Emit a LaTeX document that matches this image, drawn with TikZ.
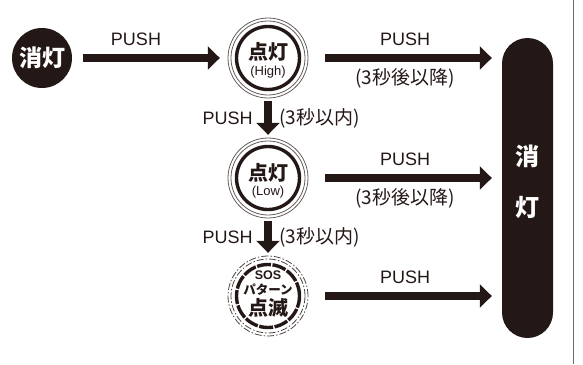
\documentclass[tikz,border=0pt]{standalone}
\usepackage{fontspec}
\setmainfont{Liberation Sans}
\newfontfamily\jp{Noto Sans CJK JP}
\usetikzlibrary{arrows.meta}
\definecolor{ink}{HTML}{231815}
\tikzset{
  lamp/.style={circle,minimum size=80pt,inner sep=0pt},
  push/.style={->,line width=8pt,draw=ink},
  lbl/.style={font=\fontsize{18}{20}\selectfont,text=ink},
  sub/.style={font=\jp\fontsize{19}{20}\selectfont,text=ink},
  big/.style={font=\jp\bfseries\fontsize{20}{20}\selectfont,text=ink,inner sep=0pt},
  small/.style={font=\fontsize{13}{13}\selectfont,text=ink,inner sep=0pt},
}
\begin{document}
\begin{tikzpicture}[x=1pt,y=-1pt,>={Triangle[width=23pt,length=12pt]}]
  \useasboundingbox (0,0) rectangle (583,364);
  \draw[ink!65,line width=1.2pt] (573.5,0) -- (573.5,364);
  \path (42,58) node[circle,fill=ink,minimum size=60pt,inner sep=0pt,text=white,font=\jp\bfseries\fontsize{23}{24}\selectfont](off){消灯};
  \path (268,58) node[lamp](high){};
  \path (268,178) node[lamp](low){};
  \path (268,296) node[lamp](sos){};
  \path (high) ++(0,-6) node[big](hightop){点灯} ++(0,20) node[small](highsub){(High)};
  \path (low) ++(0,-5) node[big](lowtop){点灯} ++(0,19) node[small](lowsub){(Low)};
  \path (sos) ++(0,-21) node[small,font=\bfseries\fontsize{12.5}{13}\selectfont](sostop){SOS}
    ++(0,15) node[big,font=\jp\bfseries\fontsize{12.5}{13}\selectfont](sosmid){パターン}
    ++(0,18) node[big](sossub){点滅};
  \path (527.5,188) node[fill=ink,rounded corners=25.5pt,minimum width=51pt,minimum height=300pt](offbar){};
  \path (527.5,182) node[text=white,align=center,font=\jp\bfseries\fontsize{24}{51}\selectfont](offtext){消\\灯};
  % rings
  \foreach \n in {high,low}{
    \draw[ink!70,line width=0.8pt] (\n) circle (40pt) (\n) circle (37pt);
    \draw[ink,line width=3.4pt] (\n) circle (31.5pt);
  }
  \draw[ink!80,line width=0.8pt,dash pattern=on 7pt off 2pt on 1.5pt off 2pt] (sos) circle (40pt) (sos) circle (37pt);
  \draw[ink,line width=3.4pt,dash pattern=on 14pt off 1.5pt] (sos) circle (31.5pt);
  % arrows
  \draw[push,shorten <=11pt,shorten >=8pt] (off) -- node[lbl,above=5pt,pos=0.41]{PUSH} (high);
  \draw[push,shorten <=17pt,shorten >=10pt] (high.east) -- node[lbl,above=5pt]{PUSH} node[sub,below=3pt]{(3秒後以降)} (high.east -| offbar.west);
  \draw[push,shorten <=17pt,shorten >=10pt] (low.east) -- node[lbl,above=5pt]{PUSH} node[sub,below=3pt]{(3秒後以降)} (low.east -| offbar.west);
  \draw[push,shorten <=17pt,shorten >=10pt] (sos.east) -- node[lbl,above=5pt]{PUSH} (sos.east -| offbar.west);
  \draw[push,shorten <=3pt,shorten >=3pt] (high) -- node[lbl,left=8pt]{PUSH} node[sub,right=4pt]{(3秒以内)} (low);
  \draw[push,shorten <=3pt,shorten >=3pt] (low) -- node[lbl,left=8pt]{PUSH} node[sub,right=4pt]{(3秒以内)} (sos);
\end{tikzpicture}
\end{document}
